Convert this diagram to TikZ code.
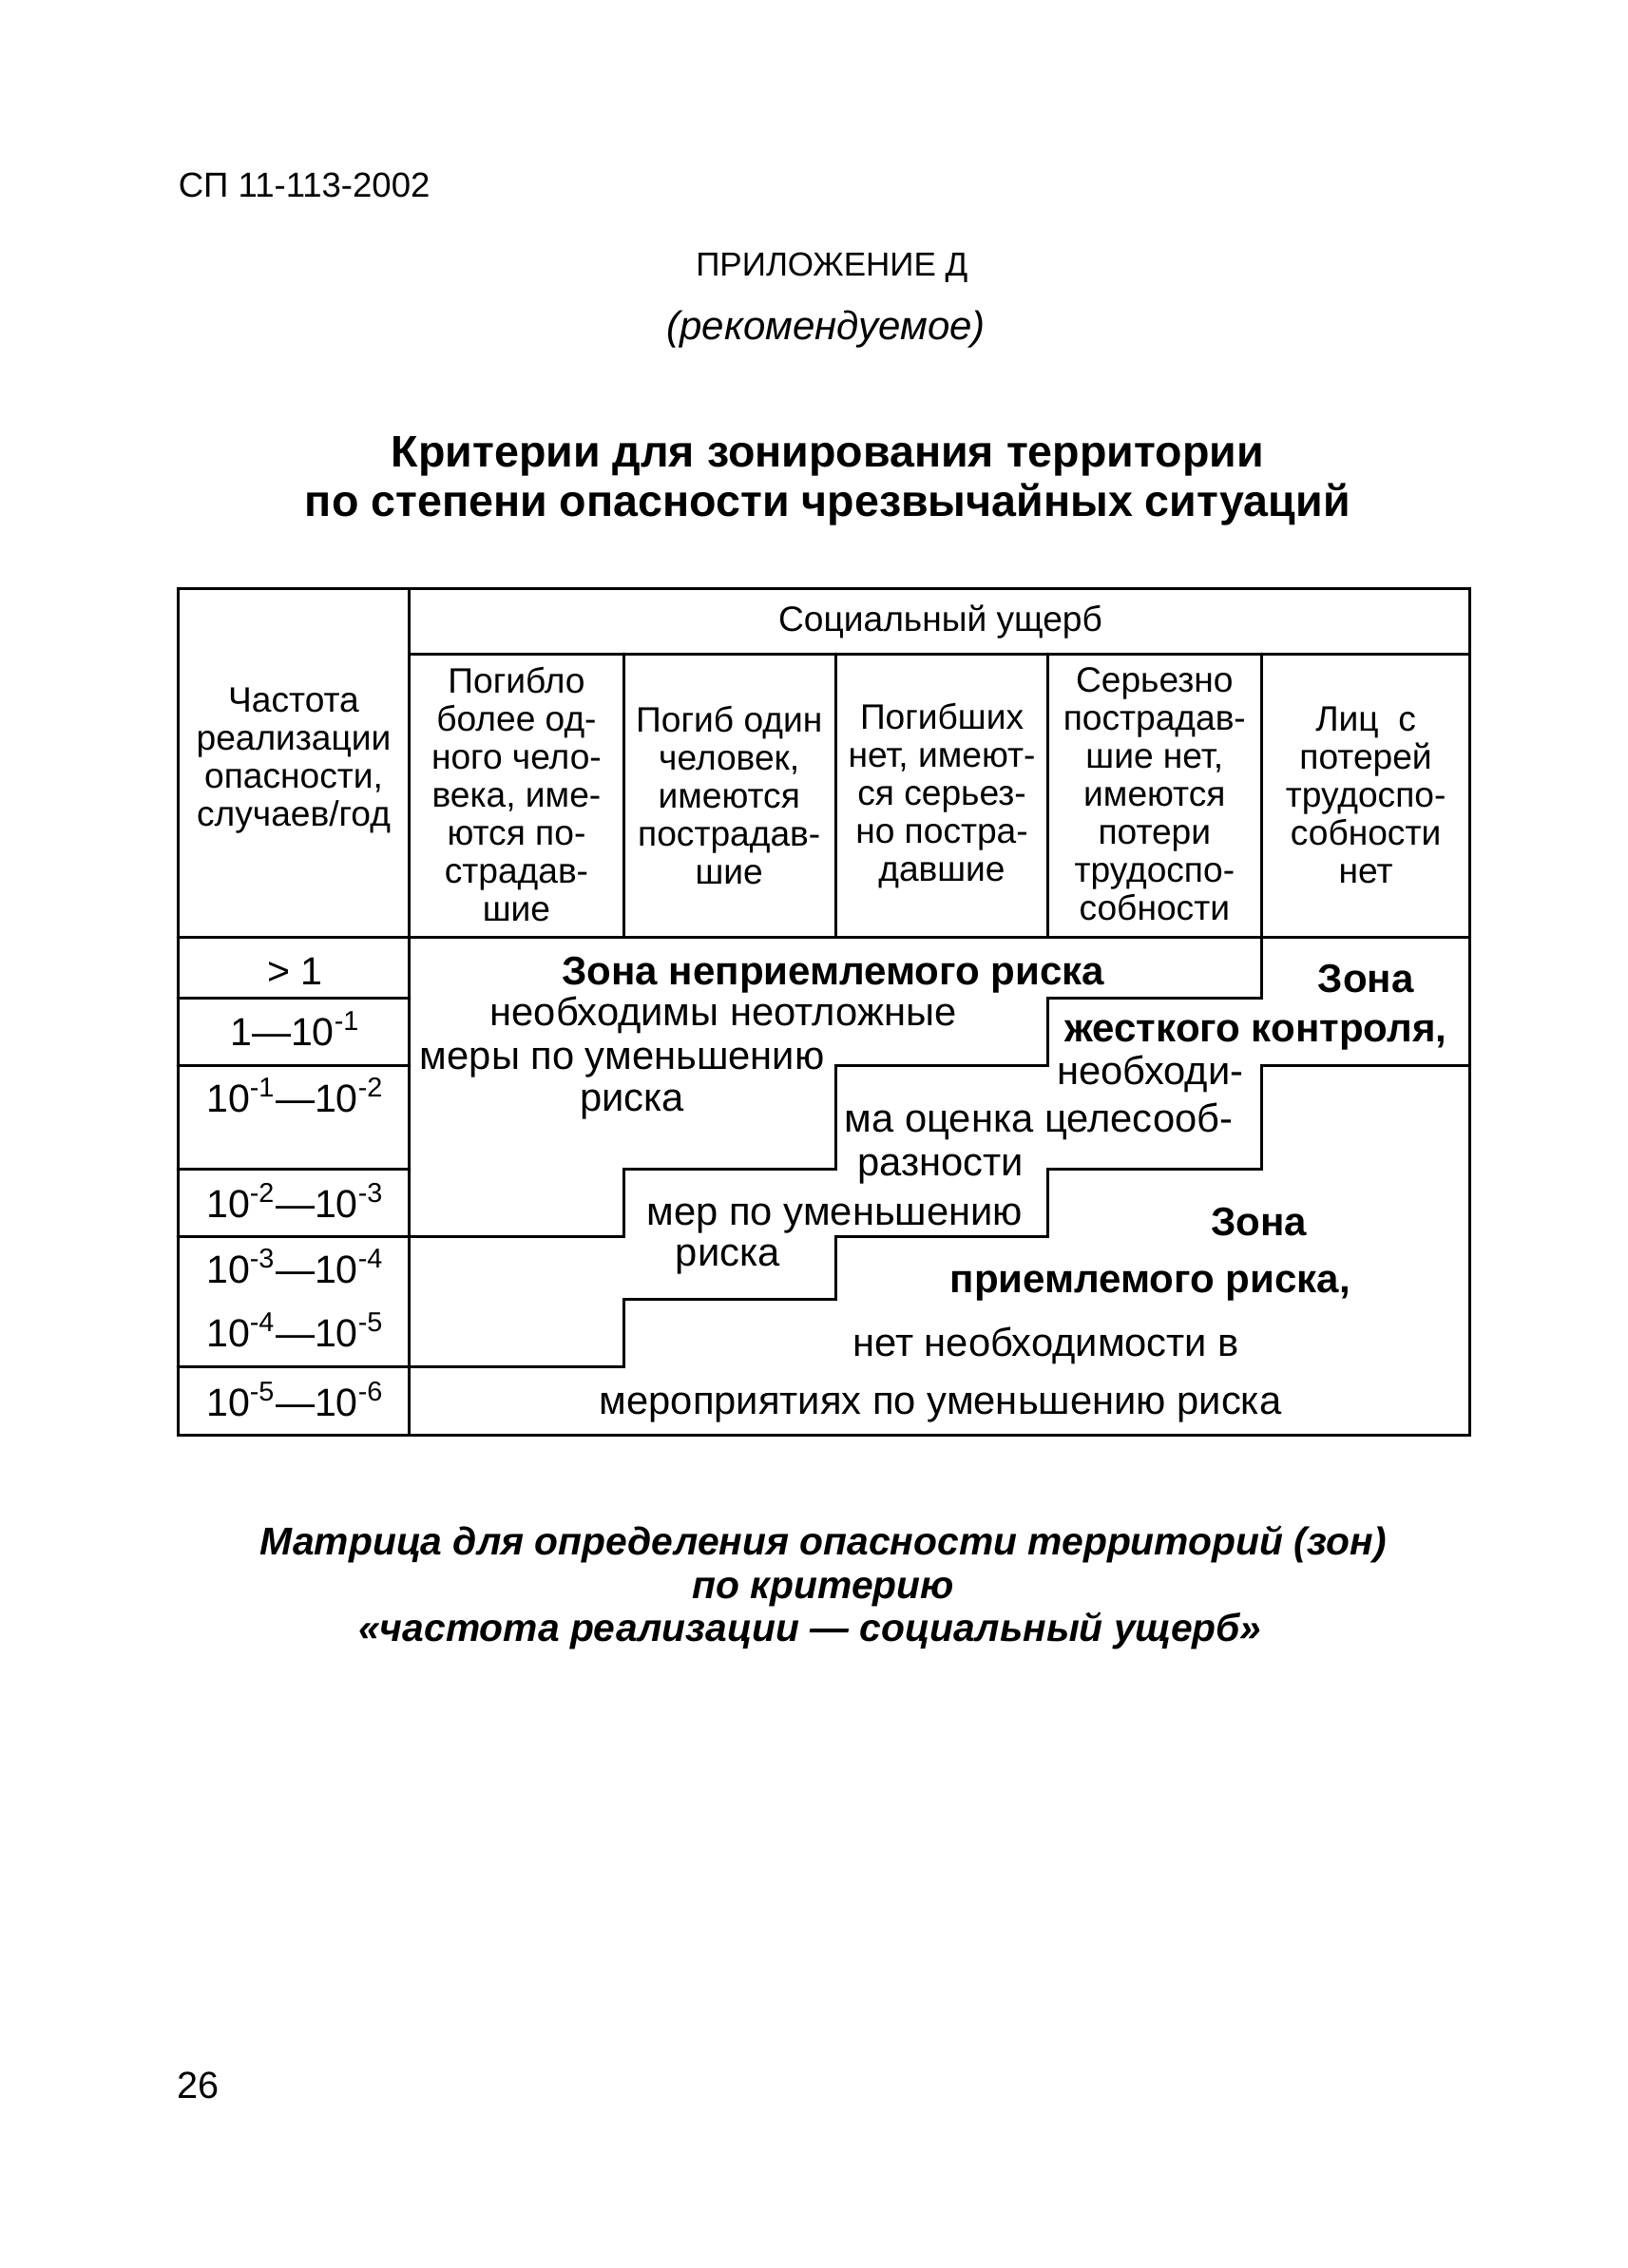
\documentclass[tikz,border=0pt]{standalone}
\usepackage{fontspec}
\setmainfont{Liberation Sans}
\tikzset{
  hd/.style={font=\fontsize{12.2}{13.15}\selectfont, align=center, inner sep=0pt},
  bt/.style={font=\fontsize{13.7}{15}\selectfont, anchor=base, inner sep=0pt},
  bb/.style={font=\fontsize{13.8}{15}\selectfont\bfseries, anchor=base, inner sep=0pt},
  lc/.style={font=\fontsize{13.5}{15}\selectfont, anchor=base, inner sep=0pt},
  ttl/.style={font=\fontsize{15.3}{17}\selectfont\bfseries, anchor=base, inner sep=0pt},
  captext/.style={font=\fontsize{13.4}{15}\selectfont\bfseries\itshape, anchor=base, inner sep=0pt},
  grid/.style={line width=1pt, line cap=round, line join=miter},
}
\begin{document}
\begin{tikzpicture}[x=0.5pt, y=-0.5pt]
\useasboundingbox (0,0) rectangle (1125,1568);
\fill[white] (0,0) rectangle (1125,1568);

% page head
\node[font=\fontsize{12}{14}\selectfont, anchor=base west, inner sep=0pt] (code) at (123,136) {СП 11-113-2002};
\node[font=\fontsize{11.5}{14}\selectfont, anchor=base, inner sep=0pt] (app) at (575,191) {ПРИЛОЖЕНИЕ Д};
\node[font=\fontsize{13.8}{15}\selectfont\itshape, anchor=base, inner sep=0pt] (rec) at (571,235) {(рекомендуемое)};
\node[ttl] (t1) at (572,323) {Критерии для зонирования территории};
\node[ttl] (t2) at (572,357) {по степени опасности чрезвычайных ситуаций};

% table frame
\draw[grid] (123,407) rectangle (1016,992);
\draw[grid] (283,407) -- (283,992);
\draw[grid] (283,452) -- (1016,452);
\draw[grid] (123,648) -- (1016,648);
\foreach \cx in {431,578,724,872} \draw[grid] (\cx,452) -- (\cx,648);
\foreach \ry in {690,737,808,855,945} \draw[grid] (123,\ry) -- (283,\ry);

% staircase boundaries
\draw[grid] (872,648) -- (872,690) -- (724,690) -- (724,737) -- (578,737) -- (578,808) -- (431,808) -- (431,855) -- (283,855);
\draw[grid] (1016,737) -- (872,737) -- (872,808) -- (724,808) -- (724,855) -- (578,855) -- (578,898) -- (431,898) -- (431,945) -- (283,945);

% header texts
\node[hd] (hsoc) at (650,430) {Социальный ущерб};
\node[hd] (hfreq) at (203,526) {Частота\\реализации\\опасности,\\случаев/год};
\node[hd] (h1) at (357,549) {Погибло\\более од-\\ного чело-\\века, име-\\ются по-\\страдав-\\шие};
\node[hd] (h2) at (504,550) {Погиб один\\человек,\\имеются\\пострадав-\\шие};
\node[hd] (h3) at (651,550) {Погибших\\нет, имеют-\\ся серьез-\\но постра-\\давшие};
\node[hd] (h4) at (798,549) {Серьезно\\пострадав-\\шие нет,\\имеются\\потери\\трудоспо-\\собности};
\node[hd] (h5) at (944,550) {Лиц\ \ с\\потерей\\трудоспо-\\собности\\нет};

% frequency column
\node[lc] (f0) at (204,681) {> 1};
\node[lc] (f1) at (204,723) {1—10\textsuperscript{-1}};
\node[lc] (f2) at (204,769) {10\textsuperscript{-1}—10\textsuperscript{-2}};
\node[lc] (f3) at (204,842) {10\textsuperscript{-2}—10\textsuperscript{-3}};
\node[lc] (f4) at (204,887) {10\textsuperscript{-3}—10\textsuperscript{-4}};
\node[lc] (f5) at (204,931) {10\textsuperscript{-4}—10\textsuperscript{-5}};
\node[lc] (f6) at (204,979) {10\textsuperscript{-5}—10\textsuperscript{-6}};

% zones
\node[bb] (u0) at (576,681) {Зона неприемлемого риска};
\node[bt] (u1) at (500,709) {необходимы неотложные};
\node[bt] (u2) at (430,739) {меры по уменьшению};
\node[bt] (u3) at (437,768) {риска};

\node[bb] (c0) at (944,686) {Зона};
\node[bb] (c1) at (868,720) {жесткого контроля,};
\node[bt] (c2) at (795,750) {необходи-};
\node[bt] (c3) at (718,783) {ма оценка целесооб-};
\node[bt] (c4) at (650,813) {разности};
\node[bt] (c5) at (577,847) {мер по уменьшению};
\node[bt] (c6) at (503,875) {риска};

\node[bb] (a0) at (870,854) {Зона};
\node[bb] (a1) at (795,894) {приемлемого риска,};
\node[bt] (a2) at (723,938) {нет необходимости в};
\node[bt] (a3) at (650,978) {мероприятиях по уменьшению риска};

% caption
\node[captext] (m1) at (569,1075) {Матрица для определения опасности территорий (зон)};
\node[captext] (m2) at (569,1105) {по критерию};
\node[captext] (m3) at (560,1135) {«частота реализации — социальный ущерб»};

\node[font=\fontsize{13}{15}\selectfont, anchor=base west, inner sep=0pt] (pg) at (122,1451) {26};
\end{tikzpicture}
\end{document}
